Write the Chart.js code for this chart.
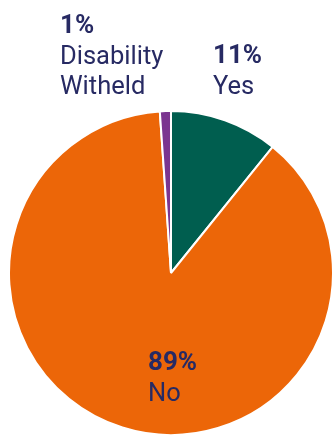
<!DOCTYPE html>
<html>
<head>
<meta charset="utf-8">
<script src="https://cdn.jsdelivr.net/npm/chart.js@4/dist/chart.umd.min.js"></script>
<style>
    html, body { margin: 0; padding: 0; background: #fff; }
    canvas { display: block; }
</style>
</head>
<body>
<canvas id="pie-chart" width="334" height="436"></canvas>
<script>
// --- Data ---
const categories = ['Yes', 'No', 'Disability Witheld'];
const shares = [10.8, 88.1, 1.1];
const percentLabels = ['11%', '89%', '1%'];
const sliceColors = ['#005e4f', '#ec6608', '#7b3590'];

// label text lines per slice (category name split for display)
const nameLines = [['Yes'], ['No'], ['Disability', 'Witheld']];

// where each label block starts (x, baseline of first line)
const labelAnchors = [
    { x: 213, y: 63 },
    { x: 148, y: 370 },
    { x: 60, y: 33 }
];

const textColor = '#272a63';

// Plugin that writes the percent + name next to each slice
const sliceLabels = {
    id: 'sliceLabels',
    afterDraw(chart) {
        const ctx = chart.ctx;
        ctx.save();
        ctx.fillStyle = textColor;
        ctx.textAlign = 'left';
        ctx.textBaseline = 'alphabetic';
        categories.forEach((cat, i) => {
            const a = labelAnchors[i];
            ctx.font = 'bold 26px Roboto';
            ctx.fillText(percentLabels[i], a.x, a.y);
            ctx.font = '25.5px Roboto';
            nameLines[i].forEach((line, j) => {
                ctx.fillText(line, a.x, a.y + 31 + j * 30);
            });
        });
        ctx.restore();
    }
};

const ctx = document.getElementById('pie-chart').getContext('2d');
new Chart(ctx, {
    type: 'pie',
    data: {
        labels: categories,
        datasets: [{
            data: shares,
            backgroundColor: sliceColors,
            borderColor: '#ffffff',
            borderWidth: 2
        }]
    },
    options: {
        responsive: false,
        animation: false,
        layout: {
            padding: { top: 110, left: 8, right: 0, bottom: 0 }
        },
        plugins: {
            legend: { display: false },
            tooltip: { enabled: false },
            title: { display: false }
        }
    },
    plugins: [sliceLabels]
});
</script>
</body>
</html>
